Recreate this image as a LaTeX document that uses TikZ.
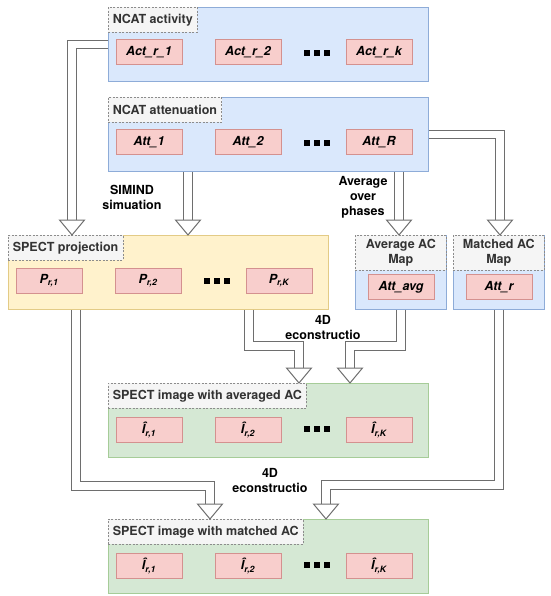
\documentclass[tikz,border=0pt]{standalone}
\usepackage{fontspec}
\setmainfont{TeX Gyre Heros}
\usetikzlibrary{calc}

\definecolor{boxblue}{HTML}{DAE8FC}
\definecolor{lineblue}{HTML}{8EACD8}
\definecolor{boxyellow}{HTML}{FFF2CC}
\definecolor{lineyellow}{HTML}{E3CB86}
\definecolor{boxgreen}{HTML}{D5E8D4}
\definecolor{linegreen}{HTML}{A6CC98}
\definecolor{boxred}{HTML}{F8CECC}
\definecolor{linered}{HTML}{D4918F}
\definecolor{titlefill}{HTML}{F5F5F5}
\definecolor{titleline}{HTML}{8C8C8C}
\definecolor{titletext}{HTML}{333333}
\definecolor{arrowline}{HTML}{6E6E6E}

\begin{document}
\begin{tikzpicture}[x=1pt,y=-1pt,
  font=\bfseries\fontsize{12.5}{15}\selectfont,
  bigbox/.style={anchor=north west,line width=0.8pt,minimum width=320pt,minimum height=74pt,inner sep=0pt},
  bluebox/.style={bigbox,fill=boxblue,draw=lineblue},
  yellowbox/.style={bigbox,fill=boxyellow,draw=lineyellow},
  greenbox/.style={bigbox,fill=boxgreen,draw=linegreen},
  mapbox/.style={bigbox,fill=boxblue,draw=lineblue,minimum width=91pt},
  titlebox/.style={anchor=north west,draw=titleline,dash pattern=on 2pt off 1.5pt,line width=0.6pt,
    fill=titlefill,text=titletext,minimum height=25pt,inner xsep=4.5pt,inner ysep=0pt},
  itembox/.style={draw=linered,fill=boxred,line width=0.8pt,minimum width=66pt,minimum height=25pt,
    inner sep=0pt,font=\bfseries\itshape\fontsize{12.5}{15}\selectfont},
  shaft/.style={preaction={draw=arrowline,line width=9.4pt},draw=white,line width=7.4pt,line join=miter},
  headline/.style={draw=arrowline,line width=1pt,fill=white,line join=miter},
  arrhead/.pic={\draw[headline] (-12.5,-15) -- (0,0) -- (12.5,-15) -- cycle;},
  note/.style={align=center,inner sep=0pt}]
  \useasboundingbox (0,0) rectangle (550,596);

  % big boxes
  \node[bluebox] (act) at (108,7) {};
  \node[bluebox] (att) at (108,97) {};
  \node[yellowbox] (proj) at (8,235) {};
  \node[mapbox] (avgmap) at (355,235) {};
  \node[mapbox] (matmap) at (453,235) {};
  \node[greenbox] (imgavg) at (108,383) {};
  \node[greenbox] (imgmat) at (108,519) {};

  % titles
  \node[titlebox] (t-act) at (act.north west) {NCAT activity};
  \node[titlebox] (t-att) at (att.north west) {NCAT attenuation};
  \node[titlebox] (t-proj) at (proj.north west) {SPECT projection};
  \node[titlebox,minimum width=91pt,minimum height=35pt,align=center] (t-avgmap) at (avgmap.north west) {Average AC\\Map};
  \node[titlebox,minimum width=91pt,minimum height=35pt,align=center] (t-matmap) at (matmap.north west) {Matched AC\\Map};
  \node[titlebox] (t-imgavg) at (imgavg.north west) {SPECT image with averaged AC};
  \node[titlebox] (t-imgmat) at (imgmat.north west) {SPECT image with matched AC};

  % items
  \foreach \n/\t/\dx in {act1/{Act\_r\_1}/41, act2/{Act\_r\_2}/140, actk/{Act\_r\_k}/271}
    \node[itembox] (\n) at ($(act.north west)+(\dx,45)$) {\t};
  \foreach \n/\t/\dx in {att1/{Att\_1}/41, att2/{Att\_2}/140, attR/{Att\_R}/271}
    \node[itembox] (\n) at ($(att.north west)+(\dx,45)$) {\t};
  \foreach \n/\t/\dx in {p1/{r,1}/41, p2/{r,2}/140, pK/{r,K}/271}
    \node[itembox] (\n) at ($(proj.north west)+(\dx,46)$) {P\textsubscript{\t}};
  \foreach \n/\t/\dx in {ia1/{r,1}/41, ia2/{r,2}/140, iaK/{r,K}/271}
    \node[itembox] (\n) at ($(imgavg.north west)+(\dx,47)$) {Î\textsubscript{\t}};
  \foreach \n/\t/\dx in {im1/{r,1}/41, im2/{r,2}/140, imK/{r,K}/271}
    \node[itembox] (\n) at ($(imgmat.north west)+(\dx,47)$) {Î\textsubscript{\t}};
  \node[itembox] (attavg) at ($(avgmap.north west)+(46,52)$) {Att\_avg};
  \node[itembox] (attr) at ($(matmap.north west)+(46,52)$) {Att\_r};

  % dots
  \foreach \b in {act,att,proj,imgavg,imgmat}
    \foreach \d in {196,206,216}
      \fill ($(\b.north west)+(\d,43)$) rectangle +(6,6);

  % labels
  \node[note] (l-simind) at (132,197) {SIMIND\\simuation};
  \node[note] (l-avg) at (363,197) {Average\\over\\phases};
  \node[note] (l-rec1) at (323,327) {4D\\econstructio};
  \node[note] (l-rec2) at (270,480) {4D\\econstructio};

  % arrow tips
  \coordinate (h1) at (72,235);
  \coordinate (h2) at (188,235);
  \coordinate (h3) at (399,235);
  \coordinate (h4) at (500,235);
  \coordinate (h5) at (299,383);
  \coordinate (h6) at (350,383);
  \coordinate (h7) at (210,519);
  \coordinate (h8) at (326,519);

  % shafts
  \draw[shaft] (act.west) -| ($(h1)+(0,-15)$);
  \draw[shaft] (att.south -| h2) -- ($(h2)+(0,-15)$);
  \draw[shaft] (att.south -| h3) -- ($(h3)+(0,-15)$);
  \draw[shaft] (att.east) -| ($(h4)+(0,-15)$);
  \draw[shaft] (proj.south -| 249,0) |- (h5 |- 0,346) -- ($(h5)+(0,-15)$);
  \draw[shaft] (avgmap.south) |- (h6 |- 0,346) -- ($(h6)+(0,-15)$);
  \draw[shaft] (proj.south -| 76,0) |- (h7 |- 0,486) -- ($(h7)+(0,-15)$);
  \draw[shaft] (matmap.south) |- (h8 |- 0,485) -- ($(h8)+(0,-15)$);

  % heads
  \foreach \h in {h1,h2,h3,h4,h5,h6,h7,h8}
    \pic at (\h) {arrhead};
\end{tikzpicture}
\end{document}
